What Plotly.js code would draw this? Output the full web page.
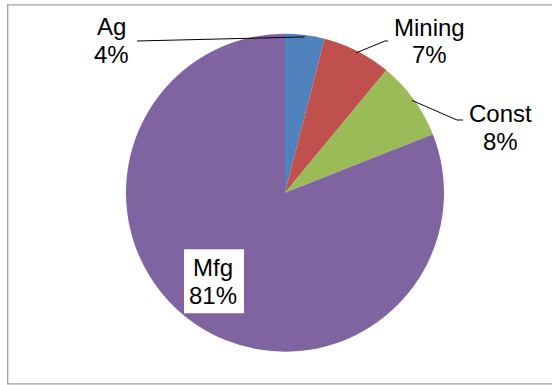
<!DOCTYPE html>
<html>
<head>
<meta charset="utf-8">
<script src="https://cdn.plot.ly/plotly-3.0.1.min.js"></script>
<style>
  html, body { margin: 0; padding: 0; background: #ffffff; }
  #chart { width: 552px; height: 385px; }
</style>
</head>
<body>
<div id="chart"></div>
<script>
// Employment share by sector
const sectors = ['Ag', 'Mining', 'Const', 'Mfg'];
const shares = [4, 7, 8, 81];
const sectorColors = ['#4F81BD', '#C0504D', '#9BBB59', '#8064A2'];

// Page geometry (px)
const W = 552, H = 385;
const CX = 285, CY = 192.7, R = 159;

// Where each label sits (centre of name line / percent line) and the
// leader path from the slice edge to the label
const labelSpots = [
  { name: [111.5, 26.7], pct: [111.5, 55.0], leader: [[137, 41]] },
  { name: [429.5, 27.4], pct: [429.5, 54.7], leader: [[385, 41], [388, 41]] },
  { name: [500.0, 113.7], pct: [500.0, 141.7], leader: [[457, 120], [463, 120]] },
  { name: [213.0, 267.7], pct: [213.0, 295.0], leader: null, box: [60, 64] }
];

const px = x => x / W;
const py = y => 1 - y / H;

const total = shares.reduce((a, b) => a + b, 0);
const labelFont = { family: 'Liberation Sans, Arial, sans-serif', size: 24, color: '#000000' };

const annotations = [];
const shapes = [];

// chart frame
shapes.push({
  type: 'rect', xref: 'paper', yref: 'paper',
  x0: px(7.7), x1: 1.02, y0: py(383.8), y1: py(4.8),
  line: { color: '#a0a0a0', width: 1.3 }, fillcolor: 'rgba(0,0,0,0)', layer: 'below'
});

let cum = 0;
shares.forEach((v, i) => {
  const mid = (cum + v / 2) / total * 2 * Math.PI; // clockwise from 12 o'clock
  cum += v;
  const spot = labelSpots[i];
  const pctText = Math.round(v / total * 100) + '%';

  if (spot.leader) {
    const tip = [CX + (R - 2) * Math.sin(mid), CY - (R - 2) * Math.cos(mid)];
    const pts = [tip].concat(spot.leader);
    const path = pts.map((p, k) => (k ? 'L' : 'M') + px(p[0]).toFixed(5) + ',' + py(p[1]).toFixed(5)).join(' ');
    shapes.push({
      type: 'path', xref: 'paper', yref: 'paper', path: path,
      line: { color: '#000000', width: 1 }, layer: 'above'
    });
  }
  if (spot.box) {
    const bx = (spot.name[0] + spot.pct[0]) / 2 + 1;
    const by = (spot.name[1] + spot.pct[1]) / 2;
    shapes.push({
      type: 'rect', xref: 'paper', yref: 'paper',
      x0: px(bx - spot.box[0] / 2), x1: px(bx + spot.box[0] / 2),
      y0: py(by + spot.box[1] / 2), y1: py(by - spot.box[1] / 2),
      line: { width: 0 }, fillcolor: '#ffffff', layer: 'above'
    });
  }
  [[sectors[i], spot.name], [pctText, spot.pct]].forEach(([t, pos]) => {
    annotations.push({
      xref: 'paper', yref: 'paper', x: px(pos[0]), y: py(pos[1]),
      xanchor: 'center', yanchor: 'middle', text: t, showarrow: false, font: labelFont
    });
  });
});

const data = [{
  type: 'pie',
  labels: sectors,
  values: shares,
  sort: false,
  direction: 'clockwise',
  rotation: 0,
  marker: { colors: sectorColors, line: { width: 0 } },
  textinfo: 'none',
  hoverinfo: 'skip',
  showlegend: false,
  domain: { x: [px(CX - R), px(CX + R)], y: [py(CY + R), py(CY - R)] }
}];

const layout = {
  width: W, height: H,
  margin: { l: 0, r: 0, t: 0, b: 0 },
  paper_bgcolor: '#ffffff',
  showlegend: false,
  shapes: shapes,
  annotations: annotations
};

Plotly.newPlot('chart', data, layout, { displayModeBar: false, staticPlot: true });
</script>
</body>
</html>
